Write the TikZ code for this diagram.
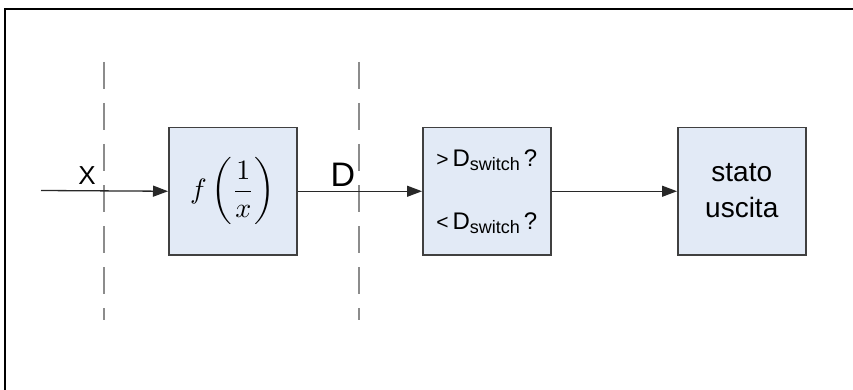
\documentclass[tikz,border=0pt]{standalone}
\usepackage{fontspec}
\setmainfont{Liberation Sans}
\usetikzlibrary{arrows.meta}
\definecolor{boxfill}{RGB}{226,234,246}
\definecolor{boxline}{RGB}{64,64,64}
\definecolor{wirecol}{RGB}{40,40,40}
\definecolor{cutcol}{RGB}{140,140,140}
\begin{document}
\begin{tikzpicture}[x=1pt,y=-1pt,
  block/.style={draw=boxline,line width=1.5pt,fill=boxfill,
    minimum width=128pt,minimum height=127pt,inner sep=0pt,anchor=north west},
  wire/.style={draw=wirecol,line width=1.3pt,-{Triangle[length=15pt,width=11pt]}},
  cutline/.style={draw=cutcol,line width=2pt,dash pattern=on 27pt off 14pt},
  lbl/.style={inner sep=0pt},
]
\useasboundingbox (0,0) rectangle (853,390);
\fill[white] (0,0) rectangle (853,390);
% frame (top and left edges)
\draw[line width=2pt] (5,390) -- (5,9) -- (853,9);

% section cuts
\coordinate (c1a) at (104,62);
\coordinate (c1b) at (104,320);
\coordinate (c2a) at (359,62);
\coordinate (c2b) at (359,320);
\draw[cutline] (c1a) -- (c1b);
\draw[cutline] (c2a) -- (c2b);

% blocks
\node[block] (f) at (168,127) {\scalebox{2.8}{$\displaystyle f\left(\frac{1}{x}\right)$}};
\node[block] (cmp) at (422,127) {};
\node[block] (out) at (677,127) {};

\node[lbl] (gt) at ([yshift=31pt]cmp.center)
  {\fontsize{24}{24}\selectfont{\fontsize{21}{21}\selectfont >}\,D\raisebox{-4pt}{\fontsize{18}{18}\selectfont switch}\,?};
\node[lbl] (lt) at ([yshift=-32pt]cmp.center)
  {\fontsize{24}{24}\selectfont{\fontsize{21}{21}\selectfont <}\,D\raisebox{-4pt}{\fontsize{18}{18}\selectfont switch}\,?};
\node[lbl,align=center,font=\fontsize{28}{36}\selectfont] (st) at ([yshift=1pt]out.center) {stato\\uscita};

% signal labels
\node[lbl,font=\fontsize{26}{26}\selectfont] (xl) at (87,176) {X};
\node[lbl,font=\fontsize{34}{34}\selectfont] (dl) at (343,175) {D};

% connectors
\coordinate (in) at (41,190.5);
\draw[wire] (in) -- (f.west);
\draw[wire] (f.east) -- (cmp.west);
\draw[wire] (cmp.east) -- (out.west);
\end{tikzpicture}
\end{document}
